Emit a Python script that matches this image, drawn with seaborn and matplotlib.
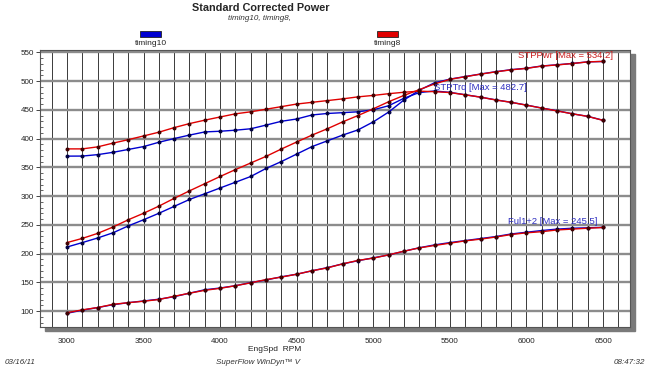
import matplotlib
matplotlib.use("Agg")
import matplotlib.pyplot as plt
import seaborn as sns
import numpy as np
import pandas as pd
from matplotlib.patches import Rectangle
from matplotlib.ticker import MultipleLocator

# Data
rpm = [3000, 3100, 3200, 3300, 3400, 3500, 3600, 3700, 3800, 3900,
       4000, 4100, 4200, 4300, 4400, 4500, 4600, 4700, 4800, 4900,
       5000, 5100, 5200, 5300, 5400, 5500, 5600, 5700, 5800, 5900,
       6000, 6100, 6200, 6300, 6400, 6500]

trq_t8 = [382, 382, 385.5, 392, 398, 404.5, 411, 419, 426, 432,
          437.5, 443, 446.5, 451, 455.5, 460, 463, 466, 469, 472.5,
          475, 478, 480.5, 482.4, 481.5, 480, 476, 472, 467, 463,
          458, 453, 448, 443, 438.5, 431.6]
pwr_t8 = [219, 226.3, 235, 246, 258.7, 270, 282.4, 296, 309, 321.5,
          334, 346, 357.5, 369, 381.8, 394, 406, 417, 429, 440,
          451.7, 464, 475, 485, 495, 503, 507.5, 512, 516, 519.5,
          522, 526, 528, 530.5, 533.3, 534.2]
ful_t8 = [97, 102, 106, 111.6, 114.5, 117, 120, 125.6, 131, 136,
          139.5, 144, 149, 154.7, 159, 164, 170, 175, 182, 188,
          192, 197.7, 204, 209.8, 214, 218, 222, 225, 228.7, 233,
          236, 238, 241, 242.5, 244, 245.3]

trq_t10 = [369.4, 369.5, 372, 376, 381, 386, 393.5, 400, 406, 411.5,
           412.7, 414.5, 417, 423.4, 430, 434, 441, 443.6, 445, 446.5,
           450, 457, 470, 480, 482.7, 480.3, 476.2, 472, 467.3, 463,
           458.2, 453, 448.3, 443, 438.6, 431.8]
pwr_t10 = [211.3, 219, 227, 236, 248, 258.7, 270, 282, 294, 304,
           314, 324, 334, 348, 360, 373, 386, 396, 406, 415,
           429, 446, 467, 484, 497, 503.3, 507.8, 512.2, 516.3, 519.8,
           522.3, 526.2, 528.3, 530.6, 533.4, 534.0]
ful_t10 = [96, 101.5, 106, 111, 114.5, 117.5, 120.5, 125, 131, 137,
           140, 144, 149.5, 154, 159.5, 164, 170, 175.5, 182, 187.5,
           192.5, 197.5, 204, 210, 215, 219, 222.5, 226, 229.5, 234,
           237, 240, 242.5, 244, 244.8, 245.5]

runs = ["timing10", "timing8"]
run_colors = {"timing10": "#0000d0", "timing8": "#e00000"}
marker_colors = {"timing10": "#000040", "timing8": "#400000"}

sns.set_style("white")
plt.rcParams["font.family"] = ["Liberation Sans Narrow", "Liberation Sans", "DejaVu Sans"]

fig = plt.figure(figsize=(6.5, 3.68), dpi=100)
W, H = 650, 368
ax = fig.add_axes([40 / W, 1 - 327 / H, 590 / W, 277 / H])

# drop shadow behind the plot area
fig.patches.append(Rectangle((45 / W, 1 - 331 / H), 590 / W, 277 / H,
                             transform=fig.transFigure, color="#7a7a7a", zorder=0))
ax.set_zorder(1)

df = pd.DataFrame({"rpm": rpm * 2,
                   "run": ["timing10"] * len(rpm) + ["timing8"] * len(rpm),
                   "trq": trq_t10 + trq_t8,
                   "pwr": pwr_t10 + pwr_t8,
                   "ful": ful_t10 + ful_t8})

for run in runs:
    sub = df[df["run"] == run]
    for col in ["trq", "pwr", "ful"]:
        sns.lineplot(data=sub, x="rpm", y=col, ax=ax, color=run_colors[run],
                     lw=1.0, marker="o", markersize=2.1,
                     markerfacecolor=marker_colors[run],
                     markeredgecolor=marker_colors[run], zorder=3)

ax.set_xlim(2824, 6676)
ax.set_ylim(72.2, 554)
ax.set_xlabel("")
ax.set_ylabel("")
ax.set_facecolor("white")

ax.xaxis.set_major_locator(MultipleLocator(500))
ax.xaxis.set_minor_locator(MultipleLocator(100))
ax.yaxis.set_major_locator(MultipleLocator(50))
ax.yaxis.set_minor_locator(MultipleLocator(10))

ax.grid(which="minor", axis="x", color="#3a3a3a", lw=0.7)
ax.grid(which="major", axis="x", color="#3a3a3a", lw=0.7)
ax.grid(which="major", axis="y", color="#8c8c8c", lw=1.7)
ax.set_axisbelow(True)

ax.tick_params(axis="x", which="both", length=0, pad=8, labelsize=5.8, labelcolor="#222222")
ax.tick_params(axis="y", which="major", direction="out", length=3, width=0.6,
               pad=1.5, labelsize=5.8, labelcolor="#222222", left=True)
ax.tick_params(axis="y", which="minor", direction="in", length=2.5, width=0.5, left=True)

for s in ax.spines.values():
    s.set_color("#555555")
    s.set_linewidth(0.8)

ax.text(5945, 543.6, "STPPwr [Max = 534.2]", color="#cc2020", fontsize=6.8, va="center")
ax.text(5396, 489.6, "STPTrq [Max = 482.7]", color="#3030c0", fontsize=6.8, va="center")
ax.text(5880, 255, "Ful1+2 [Max = 245.5]", color="#3030c0", fontsize=6.8, va="center")

# titles and legend
fig.text(261 / W, 1 - 8 / H, "Standard Corrected Power", ha="center", va="center",
         fontsize=7.8, fontweight="bold")
fig.text(260 / W, 1 - 18.5 / H, "timing10, timing8,", ha="center", va="center",
         fontsize=5.8, style="italic", color="#333333")
for x0, run in [(140, "timing10"), (377, "timing8")]:
    fig.patches.append(Rectangle((x0 / W, 1 - 37 / H), 21 / W, 6 / H,
                                 transform=fig.transFigure, facecolor=run_colors[run],
                                 edgecolor="#222222", lw=0.6))
    fig.text((x0 + 10.5) / W, 1 - 43.5 / H, run, ha="center", va="center",
             fontsize=6, color="#222222")

fig.text(275 / W, 1 - 349.5 / H, "EngSpd  RPM", ha="center", va="center",
         fontsize=6, color="#222222")
fig.text(5 / W, 1 - 362 / H, "03/16/11", ha="left", va="center",
         fontsize=5.8, style="italic", color="#333333")
fig.text(258 / W, 1 - 362 / H, "SuperFlow WinDyn\u2122 V", ha="center", va="center",
         fontsize=5.8, style="italic", color="#333333")
fig.text(645 / W, 1 - 362 / H, "08:47:32", ha="right", va="center",
         fontsize=5.8, style="italic", color="#333333")

fig.savefig("out.png", dpi=100)
